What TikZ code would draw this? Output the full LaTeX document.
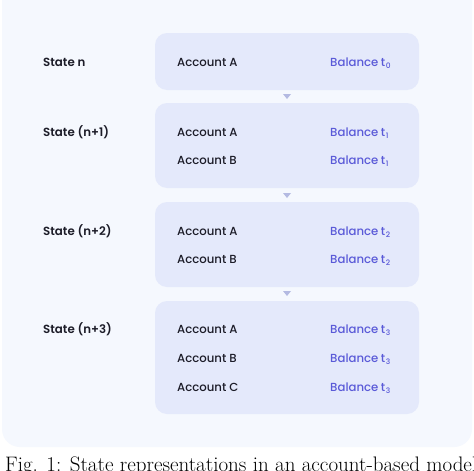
\documentclass[tikz,border=0pt]{standalone}
\usepackage{fontspec}
\setmainfont{Poppins}[UprightFont=* Medium, BoldFont=* SemiBold]
\newfontfamily\capfont{Latin Modern Roman}
\definecolor{panelbg}{HTML}{F5F8FE}
\definecolor{boxbg}{HTML}{E4E9FB}
\definecolor{balcol}{HTML}{5A5AD8}
\definecolor{txtcol}{HTML}{1C1C28}
\definecolor{arrcol}{HTML}{B4BAE2}
\newcommand{\tsub}[1]{\hspace{2.5pt}t\kern0.6pt\raisebox{-2.2pt}{\fontsize{7.5}{8}\selectfont #1}}
\tikzset{
  x=1pt, y=-1pt,
  statebox/.style={fill=boxbg, draw=none, rounded corners=12pt},
  statelbl/.style={anchor=base west, font=\fontsize{11.8}{13}\selectfont\bfseries, text=txtcol, inner sep=0pt},
  acct/.style={anchor=base west, font=\fontsize{11.7}{13}\selectfont, text=txtcol, inner sep=0pt},
  bal/.style={anchor=base west, font=\fontsize{11.7}{13}\selectfont, text=balcol, inner sep=0pt},
  tri/.style={fill=arrcol, draw=none},
}
\begin{document}
\begin{tikzpicture}
\useasboundingbox (0,0) rectangle (474,471);
\fill[white] (0,0) rectangle (474,471);
\fill[panelbg, rounded corners=18pt] (2,-30) rectangle (472,447);
% boxes
\fill[statebox] (155,33) rectangle (419,90);
\fill[statebox] (155,103) rectangle (419,188);
\fill[statebox] (155,202) rectangle (419,287);
\fill[statebox] (155,301) rectangle (419,414);
% arrows
\foreach \y in {94,193,291}{
  \fill[tri] (283,\y) -- (291,\y) -- (287,\y+5) -- cycle;
}
% labels (baselines)
\node[statelbl] (s0) at (43,66) {State n};
\node[statelbl] (s1) at (43,136) {State (n+1)};
\node[statelbl] (s2) at (43,235) {State (n+2)};
\node[statelbl] (s3) at (43,333) {State (n+3)};
% state n
\node[acct] (a0a) at (177,66) {Account A};
\node[bal] (b0a) at (330,66) {Balance\tsub{0}};
% n+1
\node[acct] (a1a) at (177,136) {Account A};
\node[bal] (b1a) at (330,136) {Balance\tsub{1}};
\node[acct] (a1b) at (177,164) {Account B};
\node[bal] (b1b) at (330,164) {Balance\tsub{1}};
% n+2
\node[acct] (a2a) at (177,235) {Account A};
\node[bal] (b2a) at (330,235) {Balance\tsub{2}};
\node[acct] (a2b) at (177,263) {Account B};
\node[bal] (b2b) at (330,263) {Balance\tsub{2}};
% n+3
\node[acct] (a3a) at (177,333) {Account A};
\node[bal] (b3a) at (330,333) {Balance\tsub{3}};
\node[acct] (a3b) at (177,362) {Account B};
\node[bal] (b3b) at (330,362) {Balance\tsub{3}};
\node[acct] (a3c) at (177,391) {Account C};
\node[bal] (b3c) at (330,391) {Balance\tsub{3}};
% caption
\node[anchor=base west, inner sep=0pt, font=\capfont\fontsize{21}{24}\selectfont] (cap) at (5,471) {Fig. 1: State representations in an account-based model};
\end{tikzpicture}
\end{document}
